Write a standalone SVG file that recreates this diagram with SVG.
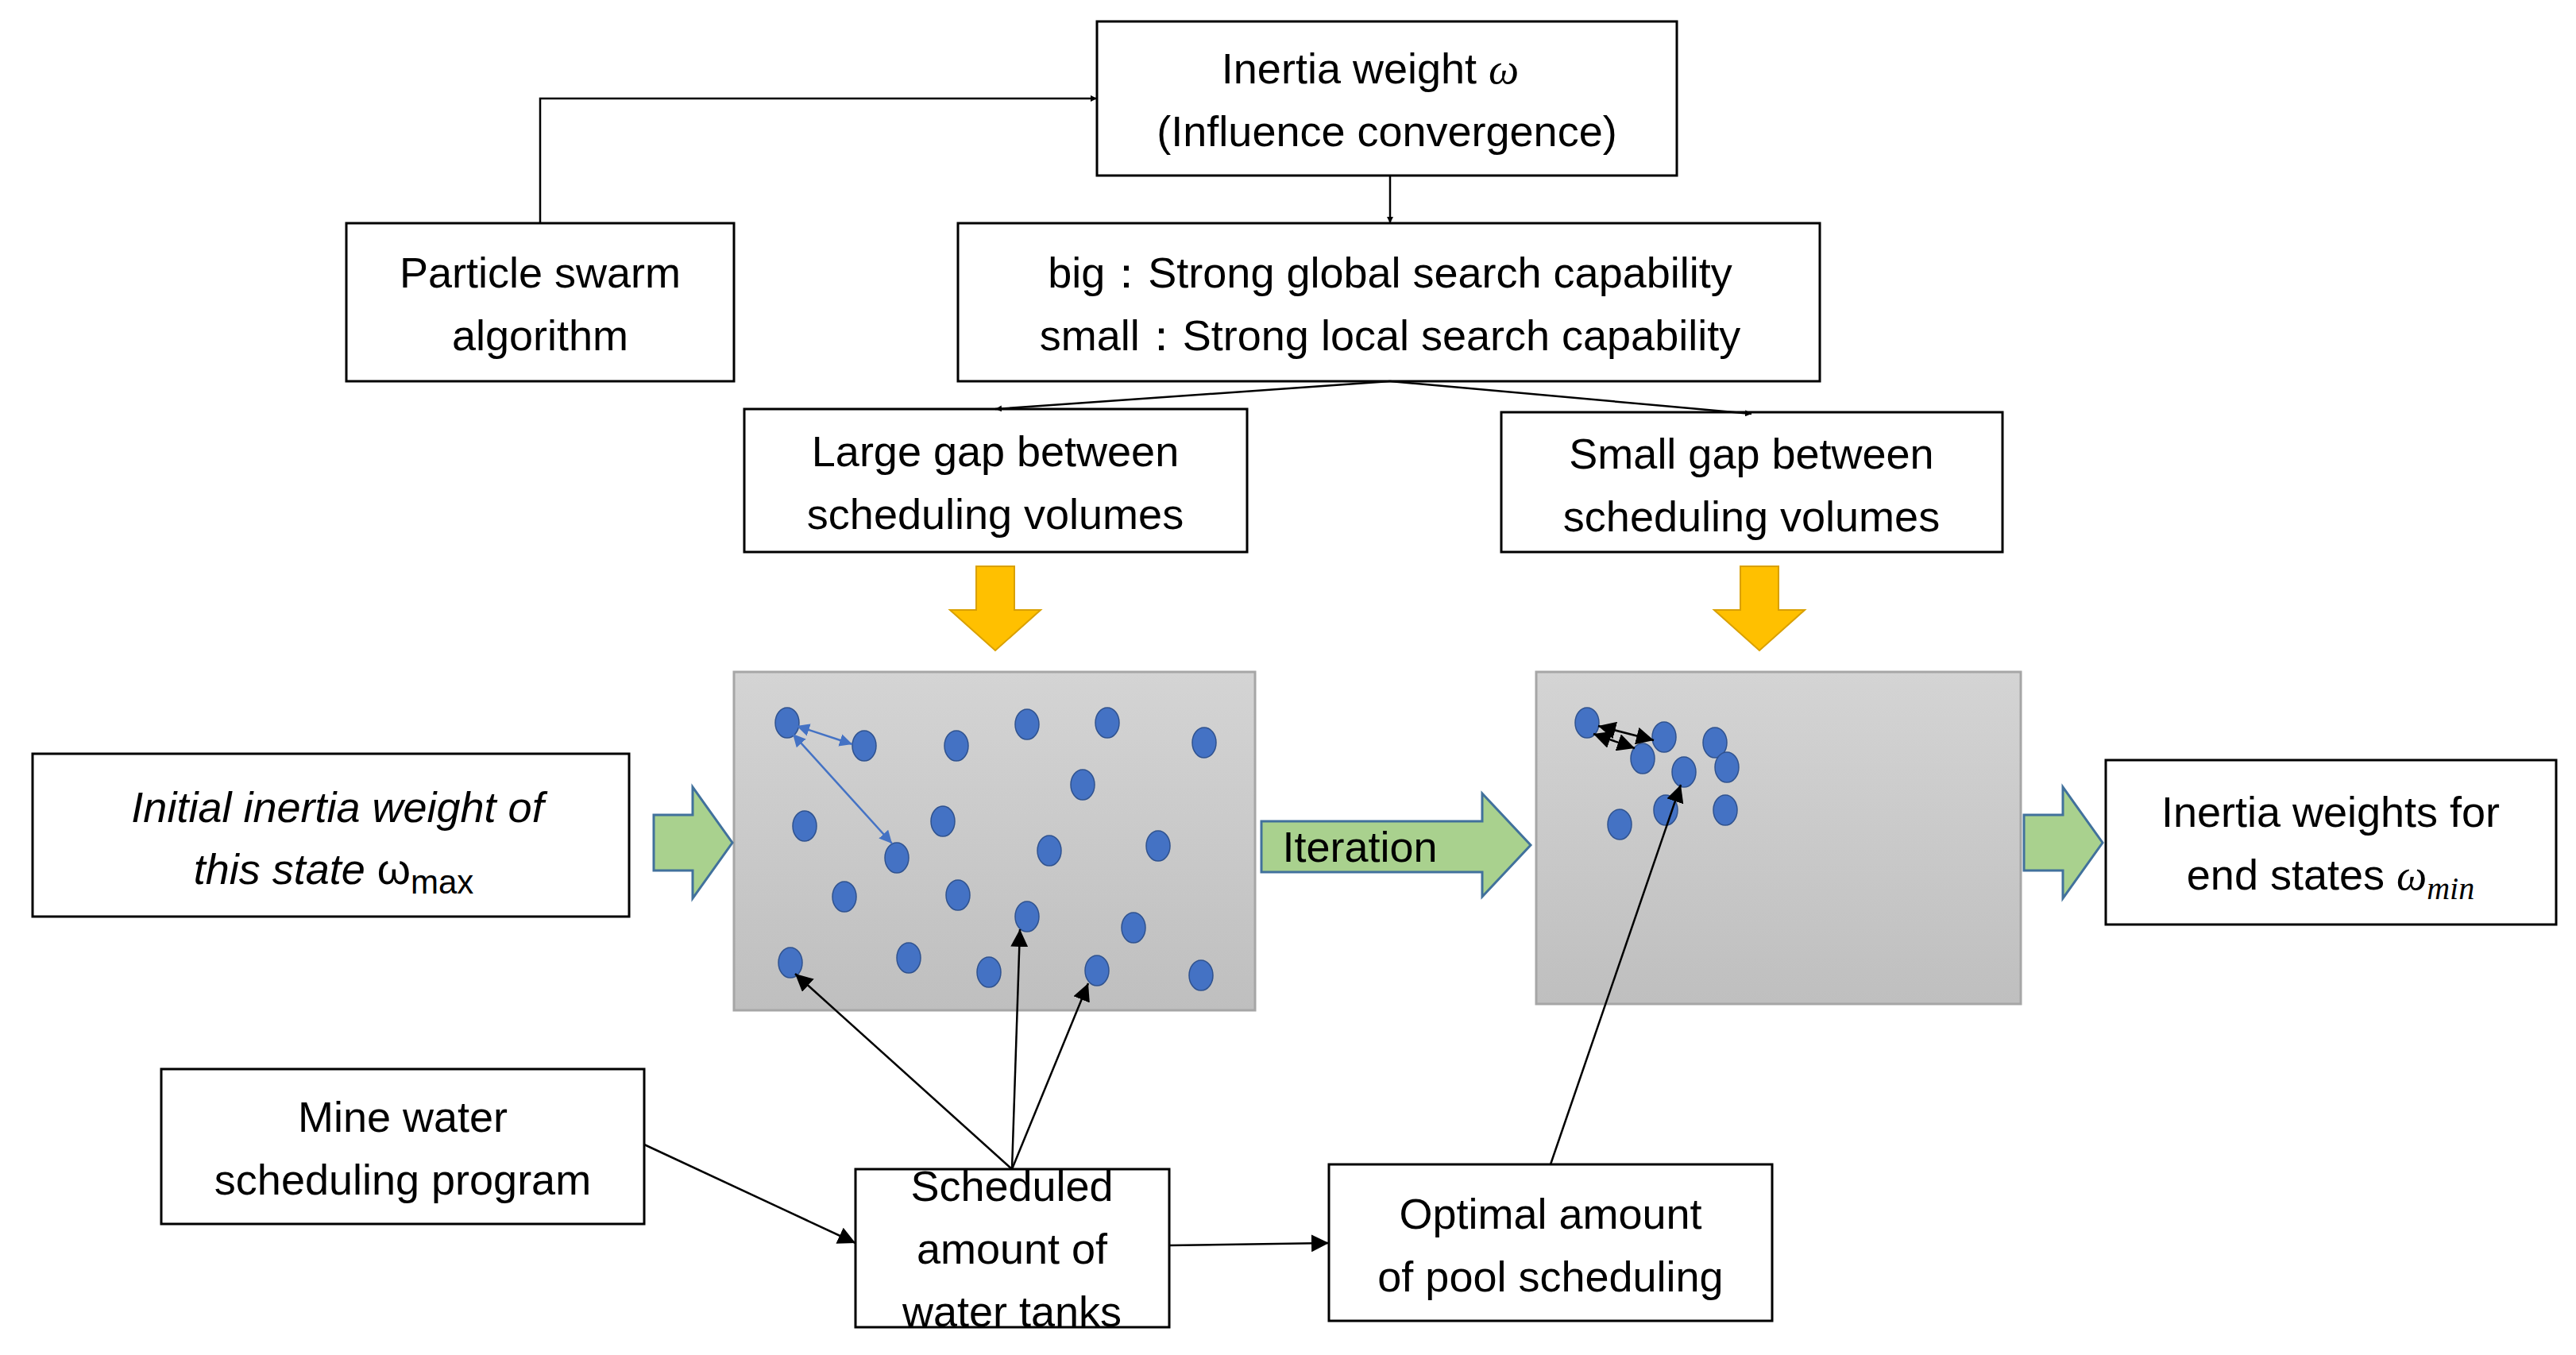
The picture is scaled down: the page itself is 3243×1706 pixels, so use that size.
<svg xmlns="http://www.w3.org/2000/svg" width="3243" height="1706" viewBox="0 0 3243 1706">
<defs>
<style>
.box{fill:#fff;stroke:#000;stroke-width:3}
text{font-family:"Liberation Sans",Arial,sans-serif;font-size:54px;fill:#000;text-anchor:middle}
.c{stroke:#000;stroke-width:2.5;fill:none}
.b{stroke:#4472c4;stroke-width:2.5;fill:none}
.dot{fill:#4472c4;stroke:#2f528f;stroke-width:1.5}
.g{fill:#a9d18e;stroke:#41719c;stroke-width:3}
.y{fill:#ffc000;stroke:#d9a000;stroke-width:2}
</style>
<linearGradient id="gr" x1="0" y1="0" x2="0" y2="1"><stop offset="0" stop-color="#d4d4d4"/><stop offset="1" stop-color="#bfbfbf"/></linearGradient>
<marker id="a" viewBox="0 0 10 10" refX="10" refY="5" markerWidth="8" markerHeight="8" orient="auto-start-reverse" markerUnits="userSpaceOnUse"><path d="M0,0L10,5L0,10z" fill="#000"/></marker>
<marker id="ab" viewBox="0 0 10 10" refX="10" refY="5" markerWidth="16" markerHeight="16" orient="auto-start-reverse" markerUnits="userSpaceOnUse"><path d="M0,0L10,5L0,10z" fill="#4472c4"/></marker>
<marker id="ak" viewBox="0 0 10 10" refX="10" refY="5" markerWidth="22" markerHeight="22" orient="auto-start-reverse" markerUnits="userSpaceOnUse"><path d="M0,0L10,5L0,10z" fill="#000"/></marker>
</defs>
<rect width="3243" height="1706" fill="#fff"/>

<g id="inertia"><rect class="box" x="1381" y="27" width="730" height="194"/><text x="1725" y="105">Inertia weight <tspan font-family="Liberation Serif" font-style="italic">ω</tspan></text><text x="1746" y="184">(Influence convergence)</text></g>
<g id="pso"><rect class="box" x="436" y="281" width="488" height="199"/><text x="680" y="362">Particle swarm</text><text x="680" y="441">algorithm</text></g>
<g id="bigsmall"><rect class="box" x="1206" y="281" width="1085" height="199"/><text x="1750" y="362">big：Strong global search capability</text><text x="1750" y="441">small：Strong local search capability</text></g>
<g id="large"><rect class="box" x="937" y="515" width="633" height="180"/><text x="1253" y="587">Large gap between</text><text x="1253" y="666">scheduling volumes</text></g>
<g id="small"><rect class="box" x="1890" y="519" width="631" height="176"/><text x="2205" y="590">Small gap between</text><text x="2205" y="669">scheduling volumes</text></g>
<g id="initial"><rect class="box" x="41" y="949" width="751" height="205"/><text x="425" y="1035" font-family="Liberation Serif" font-style="italic" font-size="56">Initial inertia weight of</text><text x="420" y="1113" font-family="Liberation Serif" font-size="56"><tspan font-style="italic">this state</tspan>  ω<tspan font-size="42" dy="12">max</tspan></text></g>
<g id="endw"><rect class="box" x="2651" y="957" width="567" height="207"/><text x="2934" y="1041">Inertia weights for</text><text x="2934" y="1120">end states <tspan font-family="Liberation Serif" font-style="italic">ω<tspan font-size="40" dy="12">min</tspan></tspan></text></g>
<g id="mine"><rect class="box" x="203" y="1346" width="608" height="195"/><text x="507" y="1425">Mine water</text><text x="507" y="1504">scheduling program</text></g>
<g id="scheduled"><rect class="box" x="1077" y="1472" width="395" height="199"/><text x="1274" y="1512">Scheduled</text><text x="1274" y="1591">amount of</text><text x="1274" y="1670">water tanks</text></g>
<g id="optimal"><rect class="box" x="1673" y="1466" width="558" height="197"/><text x="1952" y="1547">Optimal amount</text><text x="1952" y="1626">of pool scheduling</text></g>

<g id="swarm1"><rect x="924" y="846" width="656" height="426" fill="url(#gr)" stroke="#a6a6a6" stroke-width="3"/>
<g class="dot">
<ellipse cx="991" cy="910" rx="15" ry="19"/><ellipse cx="1088" cy="939" rx="15" ry="19"/><ellipse cx="1204" cy="939" rx="15" ry="19"/><ellipse cx="1293" cy="912" rx="15" ry="19"/><ellipse cx="1394" cy="910" rx="15" ry="19"/><ellipse cx="1516" cy="935" rx="15" ry="19"/><ellipse cx="1363" cy="988" rx="15" ry="19"/><ellipse cx="1013" cy="1040" rx="15" ry="19"/><ellipse cx="1187" cy="1034" rx="15" ry="19"/><ellipse cx="1129" cy="1080" rx="15" ry="19"/><ellipse cx="1321" cy="1071" rx="15" ry="19"/><ellipse cx="1458" cy="1065" rx="15" ry="19"/><ellipse cx="1063" cy="1129" rx="15" ry="19"/><ellipse cx="1206" cy="1127" rx="15" ry="19"/><ellipse cx="1293" cy="1154" rx="15" ry="19"/><ellipse cx="1427" cy="1168" rx="15" ry="19"/><ellipse cx="995" cy="1212" rx="15" ry="19"/><ellipse cx="1144" cy="1206" rx="15" ry="19"/><ellipse cx="1245" cy="1224" rx="15" ry="19"/><ellipse cx="1381" cy="1222" rx="15" ry="19"/><ellipse cx="1512" cy="1228" rx="15" ry="19"/>
</g></g>
<g id="swarm2"><rect x="1934" y="846" width="610" height="418" fill="url(#gr)" stroke="#a6a6a6" stroke-width="3"/>
<g class="dot">
<ellipse cx="1998" cy="910" rx="15" ry="19"/><ellipse cx="2095" cy="928" rx="15" ry="19"/><ellipse cx="2159" cy="935" rx="15" ry="19"/><ellipse cx="2068" cy="955" rx="15" ry="19"/><ellipse cx="2120" cy="972" rx="15" ry="19"/><ellipse cx="2174" cy="966" rx="15" ry="19"/><ellipse cx="2039" cy="1038" rx="15" ry="19"/><ellipse cx="2097" cy="1020" rx="15" ry="19"/><ellipse cx="2172" cy="1020" rx="15" ry="19"/>
</g></g>

<g id="bigarrows">
<path class="y" d="M1229,713H1277V768H1310L1253,819L1196,768H1229Z"/>
<path class="y" d="M2191,713H2239V768H2272L2215,819L2158,768H2191Z"/>
<path class="g" d="M823,1026H872V991L922,1061L872,1131V1096H823Z"/>
<path class="g" d="M2548,1026H2597V991L2647,1061L2597,1131V1096H2548Z"/>
<g id="iteration"><path class="g" d="M1588,1034H1866V999L1927,1064L1866,1129V1098H1588Z"/><text x="1712" y="1085" font-size="58">Iteration</text></g>
</g>

<g id="connectors">
<path class="c" d="M680,281V124H1381" marker-end="url(#a)"/>
<path class="c" d="M1750,221V281" marker-end="url(#a)"/>
<path class="c" d="M1750,480L1253,515" marker-end="url(#a)"/>
<path class="c" d="M1750,480L2205,521" marker-end="url(#a)"/>
<path class="b" d="M1003,914L1073,937" marker-start="url(#ab)" marker-end="url(#ab)"/>
<path class="b" d="M998,924L1123,1062" marker-start="url(#ab)" marker-end="url(#ab)"/>
<path class="c" d="M2012,914L2082,932" marker-start="url(#ak)" marker-end="url(#ak)"/>
<path class="c" d="M2006,924L2058,942" marker-start="url(#ak)" marker-end="url(#ak)"/>
<path class="c" d="M1274,1472L1001,1226" marker-end="url(#ak)"/>
<path class="c" d="M1274,1472L1284,1170" marker-end="url(#ak)"/>
<path class="c" d="M1274,1472L1370,1238" marker-end="url(#ak)"/>
<path class="c" d="M811,1441L1077,1565" marker-end="url(#ak)"/>
<path class="c" d="M1472,1568L1673,1565" marker-end="url(#ak)"/>
<path class="c" d="M1952,1466L2116,988" marker-end="url(#ak)"/>
</g>
</svg>
